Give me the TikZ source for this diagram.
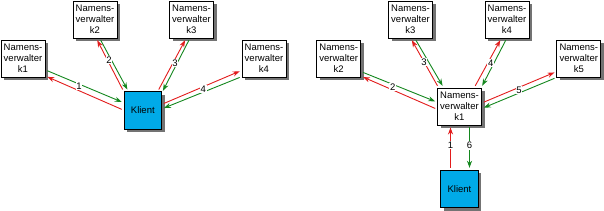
\documentclass[tikz,border=0pt]{standalone}
\usepackage{fontspec}
\setmainfont{Liberation Sans}
\usetikzlibrary{arrows.meta,shadows}
\definecolor{reqred}{RGB}{226,28,28}
\definecolor{repgreen}{RGB}{20,135,30}
\definecolor{klientblue}{RGB}{0,170,232}
\begin{document}
\begin{tikzpicture}[x=1pt,y=-1pt,
    nsbox/.style={draw, fill=white, line width=0.9pt, minimum width=44pt, minimum height=37pt,
      inner sep=0pt, align=center, font=\fontsize{9.5}{11}\selectfont,
      drop shadow={shadow xshift=3pt, shadow yshift=-3pt, fill=black!55, opacity=1}},
    klbox/.style={nsbox, fill=klientblue, minimum width=37.5pt, minimum height=37.5pt},
    req/.style={color=reqred, line width=0.9pt, -{Stealth[length=7pt,width=5pt]},
      shorten <=2pt, shorten >=2pt},
    rep/.style={req, color=repgreen},
    num/.style={fill=white, text=black, inner sep=0.8pt, font=\fontsize{9.5}{11}\selectfont}]
  \useasboundingbox (0,0) rectangle (604,211);

  % linke Seite: Klient fragt alle Namensverwalter
  \node[nsbox] (k1l) at (23,58.5) {Namens-\\verwalter\\k1};
  \node[nsbox] (k2l) at (95,19.5) {Namens-\\verwalter\\k2};
  \node[nsbox] (k3l) at (191.5,19.5) {Namens-\\verwalter\\k3};
  \node[nsbox] (k4l) at (264,58.5) {Namens-\\verwalter\\k4};
  \node[klbox] (kll) at (142.8,110.5) {Klient};

  \draw[rep] (k1l.-27) -- (kll.158);
  \draw[req] (kll.179) -- (k1l.-38);
  \draw[rep] (k2l.-76) -- (kll.127);
  \draw[req] (kll.135) -- (k2l.-86);
  \draw[req] (kll.52) -- (k3l.-106);
  \draw[rep] (k3l.-95) -- (kll.43);
  \draw[req] (kll.18) -- (k4l.-152);
  \draw[rep] (k4l.-141) -- (kll.5);

  \node[num] (n1l) at (79,86) {1};
  \node[num] (n2l) at (109,60) {2};
  \node[num] (n3l) at (175,63.3) {3};
  \node[num] (n4l) at (203.3,89) {4};

  % rechte Seite: Anfrage ueber Namensverwalter k1
  \node[nsbox] (k2r) at (338.7,58.7) {Namens-\\verwalter\\k2};
  \node[nsbox] (k3r) at (410.5,19.5) {Namens-\\verwalter\\k3};
  \node[nsbox] (k4r) at (507,19.5) {Namens-\\verwalter\\k4};
  \node[nsbox] (k5r) at (578.8,58.7) {Namens-\\verwalter\\k5};
  \node[nsbox] (k1r) at (459.5,106.5) {Namens-\\verwalter\\k1};
  \node[klbox] (klr) at (459.5,189) {Klient};

  \draw[rep] (k2r.-30) -- (k1r.169);
  \draw[req] (k1r.-173) -- (k2r.-38);
  \draw[req] (k1r.138) -- (k3r.-89);
  \draw[rep] (k3r.-77) -- (k1r.130);
  \draw[req] (k1r.52) -- (k4r.-107);
  \draw[rep] (k4r.-91) -- (k1r.41);
  \draw[req] (k1r.9) -- (k5r.-150);
  \draw[rep] (k5r.-140) -- (k1r.-5);
  \draw[req] ([xshift=-9pt]klr.north) -- ([xshift=-9pt]klr.north |- k1r.south)
    node[num, pos=0.55] (n1r) {1};
  \draw[rep] ([xshift=10pt]klr.north |- k1r.south) -- ([xshift=10pt]klr.north)
    node[num, pos=0.45] (n6r) {6};

  \node[num] (n2r) at (392.7,87.3) {2};
  \node[num] (n3r) at (424,62.3) {3};
  \node[num] (n4r) at (490.7,63.3) {4};
  \node[num] (n5r) at (519,90) {5};
\end{tikzpicture}
\end{document}
